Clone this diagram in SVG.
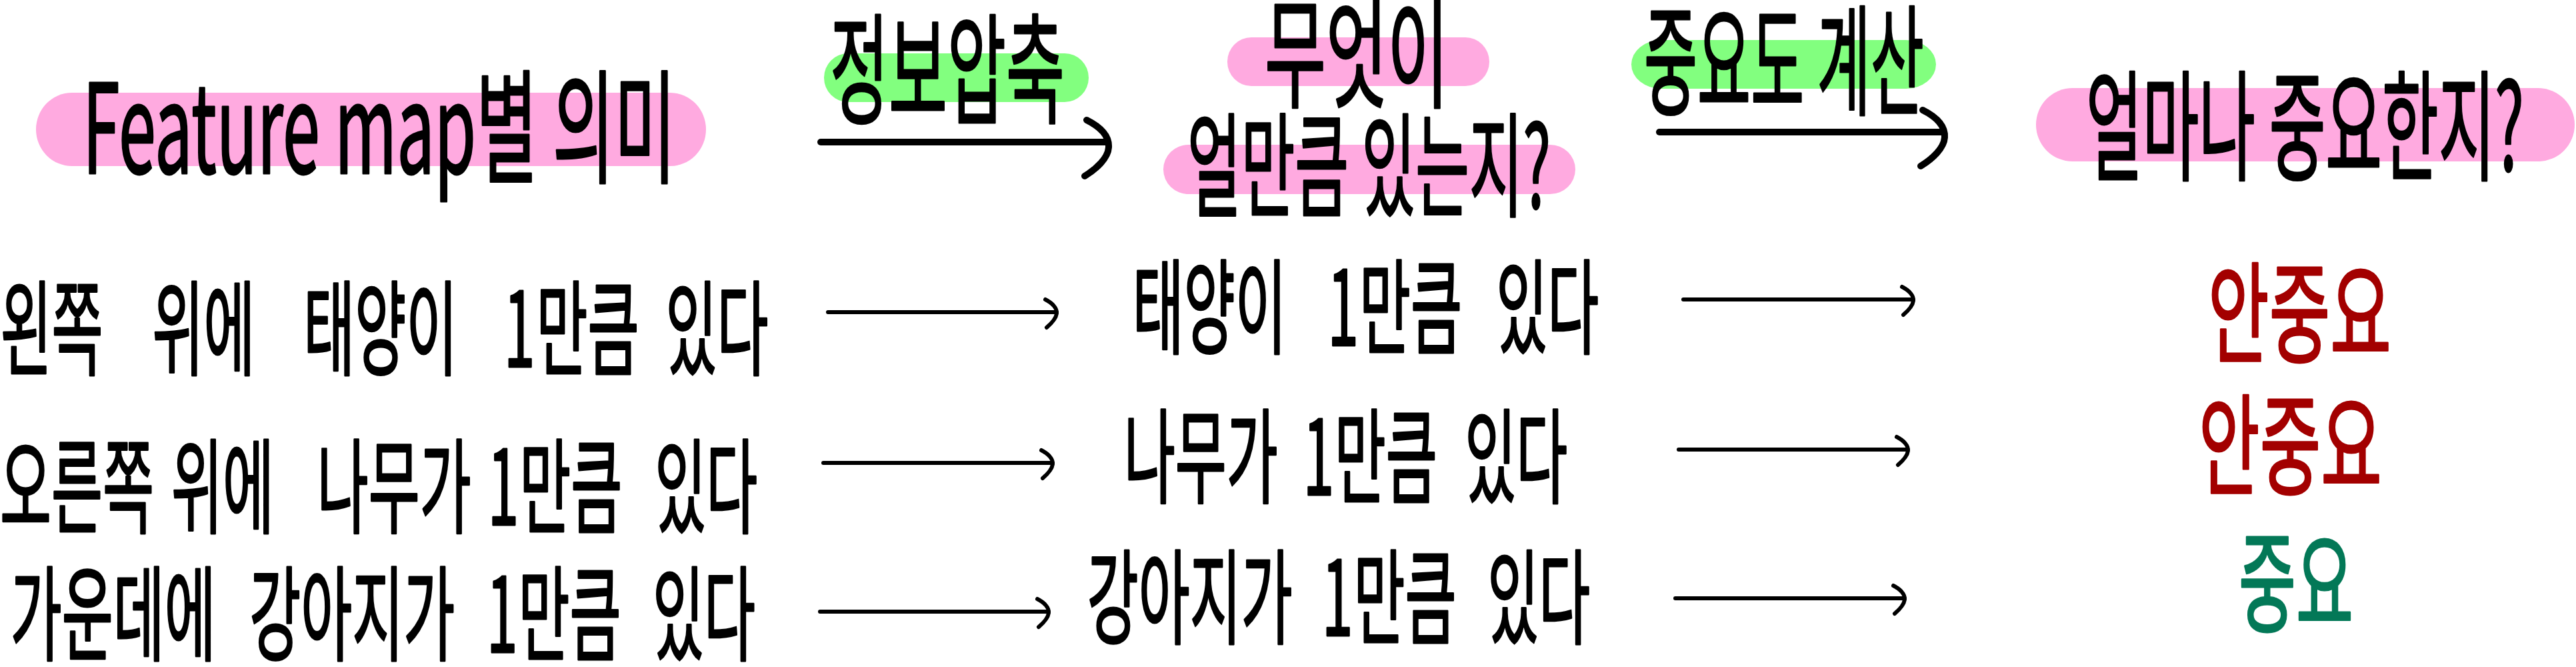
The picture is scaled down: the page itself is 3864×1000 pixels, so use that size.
<svg xmlns="http://www.w3.org/2000/svg" width="3864" height="1000" viewBox="0 0 3864 1000">
<defs>
<style>
.t{font-family:"Noto Sans CJK KR","Noto Sans",sans-serif;fill:#000;stroke:#000;stroke-width:3;stroke-linejoin:round}
.row{font-size:155px}
.hd{font-size:180px}
.pink{fill:#FFAAE0}
.green{fill:#82FF7F}
.red{fill:#A30000;stroke:#A30000}
.grn{fill:#037857;stroke:#037857}
.ln{stroke:#000;fill:none;stroke-linecap:round;stroke-linejoin:round}
.big{stroke-width:10}
.sm{stroke-width:6}
</style>
<marker id="hb" markerUnits="userSpaceOnUse" viewBox="-45 -45 55 105" markerWidth="55" markerHeight="105" refX="0" refY="0" orient="auto" overflow="visible">
<path d="M-30,-33 C-8,-22 4,-8 3,8 C2,24 -15,40 -33,51" fill="none" stroke="#000" stroke-width="10" stroke-linecap="round"/>
</marker>
<marker id="hs" markerUnits="userSpaceOnUse" viewBox="-25 -25 35 55" markerWidth="35" markerHeight="55" refX="0" refY="0" orient="auto" overflow="visible">
<path d="M-16,-19 C-6,-14 2,-6 1,2 C0,10 -7,17 -14,23" fill="none" stroke="#000" stroke-width="6" stroke-linecap="round"/>
</marker>
</defs>
<rect width="3864" height="1000" fill="#fff"/>

<g id="connectors" class="ln">
<path class="big" d="M1231,213 H1660" marker-end="url(#hb)"/>
<path class="big" d="M2489,198 H2914" marker-end="url(#hb)"/>
<path class="sm" d="M1242,468 H1584" marker-end="url(#hs)"/>
<path class="sm" d="M1235,694 H1578" marker-end="url(#hs)"/>
<path class="sm" d="M1230,917 H1572" marker-end="url(#hs)"/>
<path class="sm" d="M2525,449 H2869" marker-end="url(#hs)"/>
<path class="sm" d="M2518,674 H2861" marker-end="url(#hs)"/>
<path class="sm" d="M2513,897 H2856" marker-end="url(#hs)"/>
</g>

<g id="feature-map-meaning">
<rect class="pink" x="54" y="139" width="1005" height="110" rx="54" ry="55"/>
<text class="t" x="124" y="260" font-size="185" textLength="890" lengthAdjust="spacingAndGlyphs">Feature map별 의미</text>
</g>
<g id="compress-label">
<rect class="green" x="1236" y="80" width="397" height="73" rx="36" ry="36.5"/>
<text class="t hd" x="1245" y="171" textLength="352" lengthAdjust="spacingAndGlyphs">정보압축</text>
</g>
<g id="what">
<rect class="pink" x="1841" y="56" width="393" height="73" rx="36" ry="36.5"/>
<text class="t hd" x="1897" y="147" textLength="276" lengthAdjust="spacingAndGlyphs">무엇이</text>
</g>
<g id="how-much">
<rect class="pink" x="1745" y="217" width="618" height="74" rx="38" ry="37"/>
<text class="t" x="1781" y="312" font-size="170" textLength="545" lengthAdjust="spacingAndGlyphs">얼만큼 있는지?</text>
</g>
<g id="importance-label">
<rect class="green" x="2447" y="60" width="457" height="73" rx="45" ry="36.5"/>
<text class="t hd" x="2466" y="158" textLength="420" lengthAdjust="spacingAndGlyphs">중요도 계산</text>
</g>
<g id="how-important">
<rect class="pink" x="3054" y="132" width="808" height="110" rx="55" ry="55"/>
<text class="t hd" x="3129" y="256" textLength="657" lengthAdjust="spacingAndGlyphs">얼마나 중요한지?</text>
</g>

<g id="row1-left">
<text class="t row" transform="scale(0.54 1)" y="550"><tspan x="1">왼쪽 </tspan><tspan x="423">위에 </tspan><tspan x="843">태양이 </tspan><tspan x="1400">1</tspan><tspan x="1490">만큼 </tspan><tspan x="1849">있다</tspan></text>
</g>
<g id="row2-left">
<text class="t row" transform="scale(0.54 1)" y="787"><tspan x="0">오른쪽 </tspan><tspan x="476">위에 </tspan><tspan x="881">나무가 </tspan><tspan x="1355">1</tspan><tspan x="1443">만큼 </tspan><tspan x="1819">있다</tspan></text>
</g>
<g id="row3-left">
<text class="t row" transform="scale(0.54 1)" y="978"><tspan x="29">가운데에 </tspan><tspan x="693">강아지가 </tspan><tspan x="1352">1</tspan><tspan x="1440">만큼 </tspan><tspan x="1813">있다</tspan></text>
</g>

<g id="row1-mid">
<text class="t row" transform="scale(0.54 1)" y="518"><tspan x="3146">태양이 </tspan><tspan x="3688">1</tspan><tspan x="3776">만큼 </tspan><tspan x="4156">있다</tspan></text>
</g>
<g id="row2-mid">
<text class="t row" transform="scale(0.54 1)" y="742"><tspan x="3122">나무가 </tspan><tspan x="3620">1</tspan><tspan x="3707">만큼 </tspan><tspan x="4069">있다</tspan></text>
</g>
<g id="row3-mid">
<text class="t row" transform="scale(0.54 1)" y="953"><tspan x="3020">강아지가 </tspan><tspan x="3672">1</tspan><tspan x="3760">만큼 </tspan><tspan x="4132">있다</tspan></text>
</g>

<g id="row1-result">
<text class="t red" x="3312" y="531" font-size="165" textLength="275" lengthAdjust="spacingAndGlyphs">안중요</text>
</g>
<g id="row2-result">
<text class="t red" x="3298" y="729" font-size="165" textLength="275" lengthAdjust="spacingAndGlyphs">안중요</text>
</g>
<g id="row3-result">
<text class="t grn" x="3358" y="935" font-size="165" textLength="172" lengthAdjust="spacingAndGlyphs">중요</text>
</g>
</svg>
